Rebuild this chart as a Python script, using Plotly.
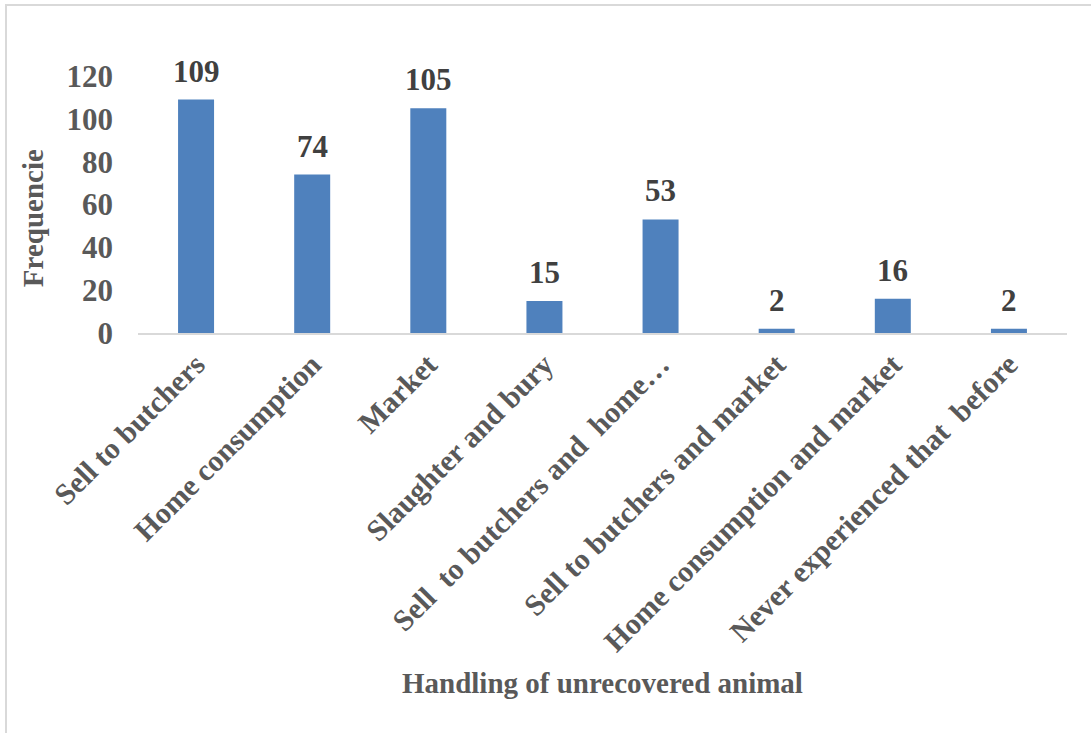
import plotly.graph_objects as go

categories = [
    "Sell to butchers",
    "Home consumption",
    "Market",
    "Slaughter and bury",
    "Sell  to butchers and  home…",
    "Sell to butchers and market",
    "Home consumption and market",
    "Never experienced that  before",
]
values = [109, 74, 105, 15, 53, 2, 16, 2]
y_ticks = [0, 20, 40, 60, 80, 100, 120]

FONT = "Liberation Serif, Times New Roman, serif"

fig = go.Figure(
    go.Bar(
        x=categories,
        y=values,
        marker=dict(color="#4F81BD", line=dict(width=0)),
        width=0.31,
    )
)

annotations = [
    dict(
        x=c,
        y=v,
        xref="x",
        yref="y",
        text=f"<b>{v}</b>",
        showarrow=False,
        yanchor="bottom",
        yshift=9,
        font=dict(family=FONT, size=31, color="#404040"),
    )
    for c, v in zip(categories, values)
]
annotations.append(
    dict(
        x=0.5,
        y=-1.362,
        xref="paper",
        yref="paper",
        text="<b>Handling of unrecovered animal</b>",
        showarrow=False,
        xanchor="center",
        yanchor="middle",
        font=dict(family=FONT, size=29, color="#595959"),
    )
)
annotations.append(
    dict(
        x=-0.113,
        y=0.447,
        xref="paper",
        yref="paper",
        text="<b>Frequencie</b>",
        textangle=-90,
        showarrow=False,
        xanchor="center",
        yanchor="middle",
        font=dict(family=FONT, size=29, color="#595959"),
    )
)

fig.update_layout(
    width=1091,
    height=733,
    margin=dict(l=138, r=24, t=76, b=400),
    paper_bgcolor="white",
    plot_bgcolor="white",
    showlegend=False,
    font=dict(family=FONT, color="#595959"),
    xaxis=dict(
        tickangle=-45,
        tickfont=dict(family=FONT, size=30, color="#595959", weight="bold"),
        showline=True,
        linecolor="#D9D9D9",
        linewidth=2,
        showgrid=False,
        ticks="",
        automargin=False,
    ),
    yaxis=dict(
        range=[0, 120],
        tickvals=y_ticks,
        tickfont=dict(family=FONT, size=31, color="#595959", weight="bold"),
        showline=False,
        showgrid=False,
        zeroline=False,
        ticks="",
        ticklabelstandoff=24,
        automargin=False,
    ),
    annotations=annotations,
    shapes=[
        dict(
            type="rect",
            xref="paper",
            yref="paper",
            x0=-0.1421,
            x1=1.05,
            y0=-1.7,
            y1=1.276,
            line=dict(color="#D9D9D9", width=2),
            fillcolor="rgba(0,0,0,0)",
            layer="below",
        )
    ],
)

fig.write_html("out.html")
